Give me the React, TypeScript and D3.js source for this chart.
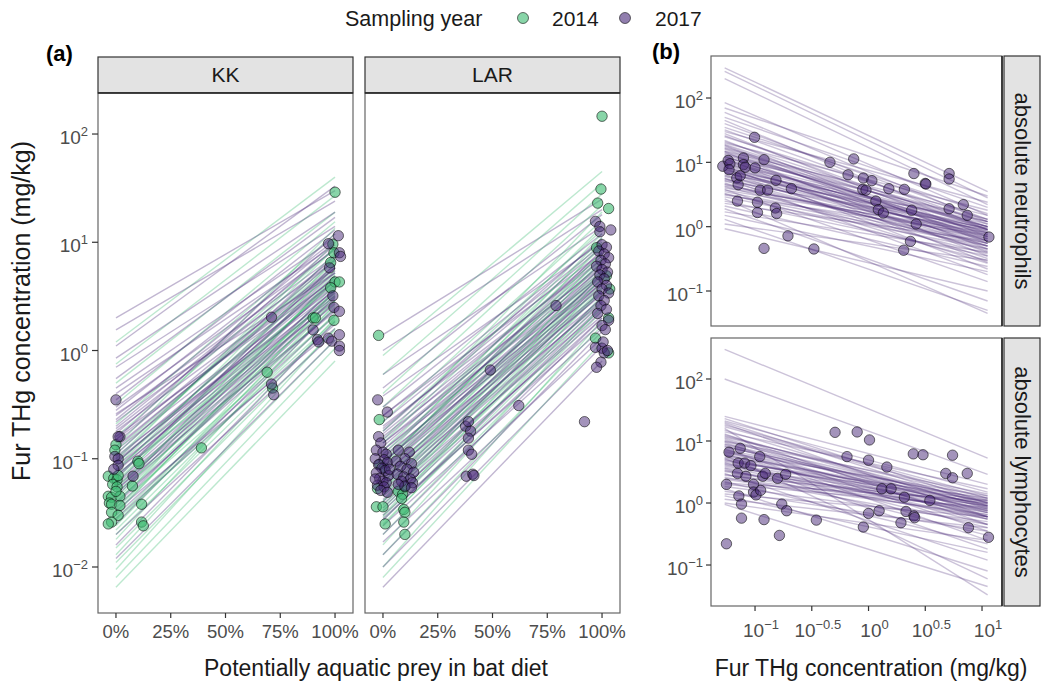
import React from 'react';
import * as d3 from 'd3';

const FONT = '"Liberation Sans", Arial, Helvetica, sans-serif';
const GREEN = '#3FBC73';
const PURPLE = '#482878';

const yearLevels = ['2014', '2017'];
const siteLevels = ['KK', 'LAR'];
const responseLevels = ['absolute neutrophils', 'absolute lymphocytes'];
const dietTicks = [0, 0.25, 0.5, 0.75, 1];
const dietTickLabels = ['0%', '25%', '50%', '75%', '100%'];
const furTickExp = [-2, -1, 0, 1, 2];
const bloodTickExp = [-1, 0, 1, 2];
const furXTickExp = [-1, -0.5, 0, 0.5, 1];
const furXTickLabels = ['\u22121', '\u22120.5', '0', '0.5', '1'];

// fitted lines in panel (a): [value at 0% aquatic prey, value at 100%]
const kkLines2017: [number, number][] = [
  [2.0, 30], [1.55, 24], [1.1, 33], [0.85, 19], [0.7, 14], [0.55, 17], [0.45, 11], [0.4, 9.5], [0.35, 13],
  [0.3, 8.5], [0.28, 10.5], [0.25, 7.5], [0.22, 6.8], [0.2, 8.8], [0.18, 5.8], [0.17, 9.5], [0.15, 5.2],
  [0.14, 6.8], [0.13, 5.8], [0.12, 4.4], [0.11, 7.6], [0.1, 4.8], [0.095, 3.9], [0.09, 5.8], [0.085, 3.4],
  [0.08, 4.9], [0.075, 4.1], [0.07, 2.9], [0.065, 6.3], [0.06, 3.7], [0.055, 2.7], [0.05, 4.4], [0.045, 3.1],
  [0.04, 2.4], [0.035, 3.5], [0.03, 2.1], [0.028, 1.75], [0.025, 2.5], [0.02, 1.45], [0.016, 1.85], [0.012, 1.25],
  [0.19, 7.2], [0.16, 4.6], [0.125, 6.2], [0.105, 3.6], [0.092, 4.4], [0.078, 3.2], [0.068, 5.4], [0.058, 3.0],
  [0.052, 2.3], [0.047, 3.8], [0.038, 2.8], [0.033, 1.6], [0.26, 5.2], [0.23, 10], [0.15, 12],
];
const kkLines2014: [number, number][] = [
  [1.2, 40], [0.75, 27], [0.5, 19], [0.32, 15.5], [0.21, 12], [0.16, 8.8], [0.13, 13.5], [0.11, 7], [0.095, 10],
  [0.085, 6.2], [0.075, 8], [0.065, 5.2], [0.058, 7], [0.052, 4.6], [0.047, 6], [0.042, 3.6], [0.038, 5],
  [0.034, 3.1], [0.031, 4.1], [0.028, 2.6], [0.025, 3.3], [0.022, 2.2], [0.02, 1.85], [0.018, 2.7], [0.015, 1.55],
  [0.013, 2.0], [0.011, 1.25], [0.0095, 1.6], [0.008, 1.05], [0.0065, 0.8],
  [0.09, 5.5], [0.08, 4.2], [0.07, 3.2], [0.062, 4.4], [0.055, 3.4], [0.048, 2.4], [0.044, 4.8], [0.04, 2.9],
  [0.036, 2.1], [0.032, 3.6], [0.027, 1.9], [0.024, 2.9], [0.12, 6.5], [0.1, 8.8],
];
const larLines2017: [number, number][] = [
  [1.4, 25], [1.0, 20], [0.6, 14], [0.45, 18], [0.38, 10], [0.3, 12], [0.25, 8], [0.22, 9.5], [0.2, 7],
  [0.18, 11], [0.16, 6], [0.15, 8], [0.14, 5], [0.13, 7], [0.12, 4.5], [0.11, 6.5], [0.1, 5.5], [0.095, 3.8],
  [0.09, 8.5], [0.085, 4.8], [0.08, 3.5], [0.075, 6], [0.07, 4.2], [0.065, 3], [0.06, 5], [0.055, 2.8],
  [0.05, 3.6], [0.045, 2.4], [0.042, 4.4], [0.038, 2.1], [0.035, 3.1], [0.03, 1.8], [0.027, 2.6], [0.024, 1.6],
  [0.02, 2.0], [0.017, 1.3], [0.013, 1.5], [0.01, 1.1], [0.0065, 0.8],
  [0.19, 9], [0.17, 7.5], [0.14, 6.3], [0.12, 5.8], [0.105, 4.2], [0.092, 5.2], [0.082, 4.5], [0.072, 3.3],
  [0.062, 4], [0.057, 3.4], [0.048, 2.9], [0.04, 2.7], [0.033, 2.3], [0.028, 2.0], [0.25, 10.5],
];
const larLines2014: [number, number][] = [
  [0.9, 45], [0.6, 35], [0.4, 28], [0.3, 22], [0.22, 16], [0.18, 13], [0.15, 19], [0.12, 10], [0.1, 12],
  [0.09, 8], [0.08, 9.5], [0.07, 6.5], [0.06, 7.5], [0.055, 5], [0.05, 6], [0.045, 4], [0.04, 5.2],
  [0.035, 3.5], [0.03, 4.3], [0.027, 2.8], [0.024, 3.2], [0.02, 2.3], [0.016, 2.6], [0.013, 1.7], [0.01, 1.9],
  [0.008, 1.2],
  [0.11, 9], [0.095, 7], [0.085, 11], [0.075, 8], [0.065, 5.5], [0.058, 6.8], [0.052, 4.6], [0.046, 5.4],
  [0.041, 3.8], [0.037, 4.7], [0.033, 3.0], [0.029, 3.7], [0.025, 2.5], [0.14, 14],
];

// observed points in panel (a): [proportion aquatic prey (jittered), fur THg]
const kkPoints2014: [number, number][] = [
  [0.0, 0.135], [-0.005, 0.12], [-0.035, 0.069], [-0.01, 0.066], [0.005, 0.064], [-0.015, 0.058], [0.005, 0.055],
  [-0.035, 0.045], [-0.02, 0.044], [0.018, 0.045], [-0.03, 0.039], [-0.02, 0.038], [0.018, 0.037], [-0.02, 0.032],
  [0.01, 0.03], [-0.02, 0.026], [-0.035, 0.025], [0.0, 0.05], [0.01, 0.07], [0.1, 0.095], [0.105, 0.09],
  [0.075, 0.056], [0.117, 0.038], [0.117, 0.026], [0.125, 0.024], [0.39, 0.126], [0.69, 0.63], [0.715, 0.45],
  [1.0, 29], [0.99, 9.6], [0.995, 8], [0.98, 6.5], [1.0, 4.3], [1.02, 4.3], [0.98, 3.8], [0.9, 2.0], [0.91, 2.0],
  [0.995, 1.9],
];
const kkPoints2017: [number, number][] = [
  [0.0, 0.35], [0.018, 0.16], [0.01, 0.16], [-0.005, 0.105], [0.01, 0.1], [0.01, 0.087], [-0.01, 0.08],
  [0.078, 0.069], [0.71, 0.49], [0.72, 0.39], [0.71, 2.03], [1.015, 11.5], [0.97, 9.7], [1.02, 8], [1.025, 7.4],
  [0.975, 5.8], [0.99, 3.2], [0.995, 2.5], [1.02, 2.3], [0.9, 1.55], [1.02, 1.4], [0.97, 1.3], [0.92, 1.26],
  [0.925, 1.2], [0.985, 1.22], [1.02, 1.1], [1.02, 1.0],
];
const larPoints2014: [number, number][] = [
  [-0.02, 1.38], [-0.017, 0.23], [-0.015, 0.089], [0.005, 0.082], [-0.025, 0.053], [-0.03, 0.036], [0.0, 0.036],
  [0.01, 0.025], [0.07, 0.05], [0.09, 0.047], [0.085, 0.043], [0.1, 0.055], [0.095, 0.034], [0.1, 0.032],
  [0.095, 0.026], [0.1, 0.02], [1.0, 146], [0.995, 31], [0.98, 23], [1.03, 20.5], [0.975, 8.9], [1.02, 4.9],
  [1.035, 3.7], [1.03, 2.0], [0.97, 1.3], [1.03, 0.95],
];
const larPoints2017: [number, number][] = [
  [-0.024, 0.35], [0.02, 0.27], [-0.02, 0.16], [-0.01, 0.14], [-0.03, 0.12], [0.0, 0.115], [0.015, 0.11],
  [-0.035, 0.1], [0.005, 0.098], [0.02, 0.092], [-0.02, 0.088], [-0.005, 0.082], [0.01, 0.078], [-0.03, 0.074],
  [0.025, 0.07], [-0.015, 0.066], [0.0, 0.062], [0.015, 0.06], [-0.025, 0.057], [0.005, 0.055], [-0.01, 0.051],
  [0.02, 0.049], [-0.035, 0.065], [0.03, 0.08], [0.07, 0.12], [0.12, 0.115], [0.1, 0.1], [0.06, 0.095],
  [0.13, 0.09], [0.08, 0.085], [0.11, 0.08], [0.14, 0.075], [0.065, 0.072], [0.095, 0.068], [0.125, 0.065],
  [0.085, 0.062], [0.135, 0.06], [0.1, 0.056], [0.13, 0.054], [0.07, 0.058], [0.377, 0.2], [0.39, 0.22],
  [0.4, 0.18], [0.39, 0.155], [0.39, 0.12], [0.405, 0.11], [0.38, 0.069], [0.41, 0.072], [0.415, 0.07],
  [0.49, 0.66], [0.62, 0.31], [0.92, 0.22], [0.79, 2.6], [0.97, 15.6], [0.99, 14], [1.04, 13], [0.99, 12.5],
  [1.0, 9.5], [1.02, 9], [0.985, 8.3], [1.01, 7.8], [1.03, 7.2], [0.995, 6.8], [1.015, 6.3], [0.975, 6],
  [1.0, 5.6], [1.025, 5.3], [0.99, 5], [1.01, 4.6], [0.98, 4.3], [1.02, 4.0], [1.0, 3.7], [1.03, 3.4],
  [0.985, 3.2], [1.01, 2.9], [0.995, 2.6], [1.02, 2.4], [0.98, 2.2], [1.03, 1.9], [1.0, 1.7], [1.015, 1.56],
  [0.97, 1.07], [1.0, 1.05], [1.01, 0.95], [0.995, 0.78], [0.975, 0.7], [1.005, 1.2], [1.025, 1.0],
];

// panel (b): range of fur THg covered by the fitted lines
const furRange: [number, number] = [0.054, 11.2];
// fitted lines: [value at lowest fur THg, value at highest fur THg]
const neutroLines: [number, number][] = [
  [295, 3.5], [260, 2.8], [200, 2.2], [85, 1.5], [70, 3.0], [60, 1.2], [50, 2.0], [45, 0.9], [35, 1.6], [32, 1.1],
  [30, 2.4], [28, 0.7], [25, 1.3], [22, 0.55], [20, 1.8], [19, 0.9], [18, 0.45], [17, 1.2], [16, 0.65], [15, 1.5],
  [14.5, 0.35], [14, 0.8], [13, 1.0], [12.5, 0.5], [12, 1.3], [11.5, 0.28], [11, 0.7], [10.5, 0.9], [10, 0.4],
  [9.5, 1.1], [9, 0.6], [8.7, 0.22], [8.3, 0.85], [8, 0.5], [7.6, 1.2], [7.2, 0.32], [7, 0.7], [6.7, 0.95],
  [6.4, 0.42], [6, 0.6], [5.7, 0.18], [5.4, 0.8], [5.1, 0.5], [4.8, 0.27], [4.5, 0.65], [4.2, 0.38], [4, 0.9],
  [3.8, 0.14], [3.5, 0.55], [3.3, 0.3], [3.1, 0.75], [2.9, 0.45], [2.7, 0.045], [2.5, 0.35], [2.3, 0.6],
  [2.1, 0.24], [1.9, 0.07], [1.7, 0.4], [1.5, 0.2], [1.3, 0.05], [1.1, 0.3], [0.93, 0.1],
  [16.5, 1.0], [14.8, 0.75], [13.5, 1.2], [12.2, 0.6], [11.2, 1.0], [10.2, 0.8], [9.2, 0.9], [8.5, 0.65],
  [7.8, 0.55], [7.4, 0.85], [6.9, 1.0], [6.2, 0.75], [5.6, 0.45], [5.2, 0.95], [4.6, 0.55], [4.3, 0.7],
  [3.7, 0.8], [3.2, 0.5], [18.5, 0.6], [21, 1.0], [26, 0.9], [40, 1.3],
];
const lymphoLines: [number, number][] = [
  [300, 5.3], [100, 2.9], [25, 2.0], [23, 1.0], [21, 1.5], [19, 0.6], [17, 1.2], [15, 0.8], [14, 1.7], [13, 0.45],
  [12, 1.0], [11, 0.7], [10, 1.4], [9.5, 0.35], [9, 0.9], [8.5, 0.55], [8, 1.1], [7.5, 0.25], [7, 0.75],
  [6.6, 1.3], [6.2, 0.45], [5.8, 0.95], [5.5, 0.6], [5.2, 0.18], [5, 0.8], [4.7, 1.2], [4.4, 0.4], [4.1, 0.65],
  [3.9, 0.9], [3.6, 0.3], [3.4, 0.55], [3.2, 0.75], [3, 0.12], [2.8, 1.0], [2.6, 0.45], [2.4, 0.65],
  [2.2, 0.22], [2.0, 0.85], [1.85, 0.5], [1.7, 0.08], [1.55, 0.35], [1.4, 0.6], [1.3, 0.16], [1.15, 0.4],
  [0.95, 0.045], [1.0, 0.25], [16, 0.033], [6, 0.06],
  [12.5, 0.85], [11.5, 1.2], [10.5, 0.6], [9.8, 1.0], [8.8, 0.75], [8.2, 0.9], [7.2, 1.15], [6.8, 0.6],
  [6.4, 0.85], [5.9, 1.05], [5.3, 0.7], [4.9, 0.95], [4.5, 0.55], [4.2, 1.1], [3.7, 0.7], [3.3, 0.9],
  [2.9, 0.6], [2.5, 0.8], [2.1, 1.1], [18, 1.3], [20, 0.9],
];
// observed points: [fur THg, cell count]
const neutroPoints: [number, number][] = [
  [0.052, 8.7], [0.058, 10.7], [0.06, 9.5], [0.059, 7.7], [0.069, 5.7], [0.071, 4.5], [0.07, 2.5], [0.079, 11.7],
  [0.079, 9.2], [0.082, 8.4], [0.074, 6.2], [0.099, 24.5], [0.1, 8.2], [0.12, 11], [0.111, 3.7], [0.129, 3.7],
  [0.105, 2.4], [0.105, 1.66], [0.153, 5.25], [0.151, 1.95], [0.155, 1.6], [0.12, 0.46], [0.195, 0.72],
  [0.209, 3.9], [0.33, 0.45], [0.457, 10], [0.66, 6.4], [0.74, 11.3], [0.9, 5.7], [0.89, 3.8], [0.95, 3.7],
  [1.07, 5.2], [1.16, 2.5], [1.22, 1.84], [1.35, 1.63], [1.51, 3.9], [2.07, 3.8], [2.51, 6.7], [2.4, 1.8],
  [2.34, 0.59], [2.04, 0.43], [2.63, 1.1], [3.16, 4.7], [3.2, 4.6], [5.13, 6.7], [5.13, 5.5], [5.13, 1.9],
  [6.84, 2.2], [7.41, 1.5], [11.5, 0.69],
];
const lymphoPoints: [number, number][] = [
  [0.056, 2.0], [0.056, 0.22], [0.059, 6.6], [0.074, 7.6], [0.071, 4.4], [0.07, 3.0], [0.072, 1.3], [0.076, 0.96],
  [0.076, 0.57], [0.081, 4.4], [0.083, 2.7], [0.092, 4.0], [0.097, 2.0], [0.097, 1.5], [0.102, 1.35], [0.11, 5.6],
  [0.112, 1.6], [0.117, 2.7], [0.123, 3.0], [0.12, 0.54], [0.158, 2.5], [0.172, 0.96], [0.164, 0.3], [0.186, 2.9],
  [0.19, 0.75], [0.347, 0.53], [0.507, 13.8], [0.646, 5.6], [0.794, 14], [1.02, 10.4], [1.0, 4.9], [0.9, 0.41],
  [1.0, 0.68], [1.24, 0.75], [1.31, 1.7], [1.45, 3.8], [1.58, 1.7], [2.07, 1.24], [1.93, 0.48], [2.14, 0.73],
  [2.48, 6.2], [2.51, 0.62], [2.55, 0.58], [3.02, 6.0], [3.47, 1.1], [4.79, 3.0], [5.5, 2.55], [5.5, 5.9],
  [7.41, 3.0], [7.59, 0.4], [11.4, 0.28],
];

// ---------- scales ----------
const yA = d3.scaleLog().domain([10 ** -2.425, 10 ** 2.379]).range([613, 93]);
const xKK = d3.scaleLinear().domain([-0.082, 1.082]).range([98, 353]);
const xLAR = d3.scaleLinear().domain([-0.082, 1.082]).range([365, 620]);
const xB = d3.scaleLog().domain([10 ** -1.388, 10 ** 1.176]).range([711, 1002]);
const yBTop = d3.scaleLog().domain([10 ** -1.544, 10 ** 2.653]).range([326, 56]);
const yBBot = d3.scaleLog().domain([10 ** -1.661, 10 ** 2.661]).range([606, 338]);

const lineGen = d3.line<[number, number]>().x((d) => d[0]).y((d) => d[1]);

function interleave<T>(a: T[], b: T[]): { item: T; g: number }[] {
  const out: { item: T; g: number }[] = [];
  const n = Math.max(a.length, b.length);
  for (let i = 0; i < n; i++) {
    if (i < a.length) out.push({ item: a[i], g: 0 });
    if (i < b.length) out.push({ item: b[i], g: 1 });
  }
  return out;
}

const colorOf = (g: number) => (g === 0 ? GREEN : PURPLE);

function Pow10({ x, y, exp, anchor }: { x: number; y: number; exp: string; anchor: string }) {
  return (
    <text x={x} y={y} textAnchor={anchor} fontFamily={FONT} fontSize={19} fill="#4D4D4D">
      10
      <tspan dy={-8} fontSize={13}>{exp}</tspan>
    </text>
  );
}

function DietPanel({ site, x, lines14, lines17, pts14, pts17 }: any) {
  const [x0, x1] = x.range();
  const [yb, yt] = yA.range();
  const lines = interleave<[number, number]>(lines14, lines17);
  return (
    <g>
      <rect x={x0} y={57} width={x1 - x0} height={yt - 57} fill="#E3E3E3" stroke="#333" strokeWidth={1.2} />
      <text x={(x0 + x1) / 2} y={82} textAnchor="middle" fontFamily={FONT} fontSize={21} fill="#1A1A1A">{site}</text>
      <rect x={x0} y={yt} width={x1 - x0} height={yb - yt} fill="white" />
      {lines.map((l, i) => (
        <path key={'l' + i}
          d={lineGen([[x(0), yA(l.item[0])], [x(1), yA(l.item[1])]]) || ''}
          stroke={colorOf(l.g)} strokeOpacity={0.34} strokeWidth={1.4} fill="none" />
      ))}
      {pts14.map((p: [number, number], i: number) => (
        <circle key={'a' + i} cx={x(p[0])} cy={yA(p[1])} r={5.2} fill={GREEN} fillOpacity={0.62}
          stroke="#000" strokeOpacity={0.55} strokeWidth={1} />
      ))}
      {pts17.map((p: [number, number], i: number) => (
        <circle key={'b' + i} cx={x(p[0])} cy={yA(p[1])} r={5.2} fill={PURPLE} fillOpacity={0.5}
          stroke="#000" strokeOpacity={0.55} strokeWidth={1} />
      ))}
      <rect x={x0} y={yt} width={x1 - x0} height={yb - yt} fill="none" stroke="#666" strokeWidth={1.2} />
      <line x1={x0} x2={x1} y1={yt} y2={yt} stroke="#222" strokeWidth={1.6} />
      {dietTicks.map((t, i) => (
        <g key={'t' + i}>
          <line x1={x(t)} x2={x(t)} y1={yb} y2={yb + 5} stroke="#333" strokeWidth={1.2} />
          <text x={x(t)} y={638} textAnchor="middle" fontFamily={FONT} fontSize={18.5} fill="#4D4D4D">{dietTickLabels[i]}</text>
        </g>
      ))}
    </g>
  );
}

function BloodPanel({ label, y, lines, pts, showX }: any) {
  const [x0, x1] = xB.range();
  const [yb, yt] = y.range();
  return (
    <g>
      <rect x={x0} y={yt} width={x1 - x0} height={yb - yt} fill="white" />
      {lines.map((l: [number, number], i: number) => (
        <path key={'l' + i}
          d={lineGen([[xB(furRange[0]), y(l[0])], [xB(furRange[1]), y(l[1])]]) || ''}
          stroke={PURPLE} strokeOpacity={0.28} strokeWidth={1.4} fill="none" />
      ))}
      {pts.map((p: [number, number], i: number) => (
        <circle key={'p' + i} cx={xB(p[0])} cy={y(p[1])} r={5.2} fill={PURPLE} fillOpacity={0.5}
          stroke="#000" strokeOpacity={0.55} strokeWidth={1} />
      ))}
      <rect x={x0} y={yt} width={x1 - x0} height={yb - yt} fill="none" stroke="#666" strokeWidth={1.2} />
      <line x1={x1} x2={x1} y1={yt} y2={yb} stroke="#222" strokeWidth={1.6} />
      <rect x={x1 + 2} y={yt} width={36} height={yb - yt} fill="#E3E3E3" stroke="#333" strokeWidth={1.2} />
      <text transform={`translate(${x1 + 20},${(yt + yb) / 2}) rotate(90)`} textAnchor="middle"
        dominantBaseline="central" fontFamily={FONT} fontSize={22} fill="#1A1A1A">{label}</text>
      {bloodTickExp.map((e) => (
        <g key={'y' + e}>
          <line x1={x0 - 5} x2={x0} y1={y(10 ** e)} y2={y(10 ** e)} stroke="#333" strokeWidth={1.2} />
          <Pow10 x={703} y={y(10 ** e) + 10} exp={e < 0 ? '\u2212' + Math.abs(e) : String(e)} anchor="end" />
        </g>
      ))}
      {showX && furXTickExp.map((e, i) => (
        <g key={'x' + i}>
          <line x1={xB(10 ** e)} x2={xB(10 ** e)} y1={yb} y2={yb + 5} stroke="#333" strokeWidth={1.2} />
          <Pow10 x={xB(10 ** e) + 6} y={637} exp={furXTickLabels[i]} anchor="middle" />
        </g>
      ))}
    </g>
  );
}

export default function App() {
  return (
    <svg width={1050} height={689} style={{ position: 'absolute', left: 0, top: 0, background: 'white' }}
      fontFamily={FONT}>
      <rect width={1050} height={689} fill="white" />
      {/* legend */}
      <text x={345} y={26} fontSize={21.5} fill="#1A1A1A">Sampling year</text>
      <circle cx={523} cy={18} r={5.5} fill={GREEN} fillOpacity={0.62} stroke="#000" strokeOpacity={0.55} />
      <text x={552} y={26} fontSize={21} fill="#1A1A1A">{yearLevels[0]}</text>
      <circle cx={625} cy={18} r={5.5} fill={PURPLE} fillOpacity={0.6} stroke="#000" strokeOpacity={0.55} />
      <text x={655} y={26} fontSize={21} fill="#1A1A1A">{yearLevels[1]}</text>

      {/* panel labels */}
      <text x={46} y={61} fontSize={22} fontWeight="bold" fill="#000">(a)</text>
      <text x={652} y={59} fontSize={22} fontWeight="bold" fill="#000">(b)</text>

      <DietPanel site={siteLevels[0]} x={xKK} lines14={kkLines2014} lines17={kkLines2017} pts14={kkPoints2014} pts17={kkPoints2017} />
      <DietPanel site={siteLevels[1]} x={xLAR} lines14={larLines2014} lines17={larLines2017} pts14={larPoints2014} pts17={larPoints2017} />

      {furTickExp.map((e) => (
        <g key={'ya' + e}>
          <line x1={92} x2={98} y1={yA(10 ** e)} y2={yA(10 ** e)} stroke="#333" strokeWidth={1.2} />
          <Pow10 x={88} y={yA(10 ** e) + 10} exp={e < 0 ? '\u2212' + Math.abs(e) : String(e)} anchor="end" />
        </g>
      ))}
      <text transform="translate(30,311) rotate(-90)" textAnchor="middle" fontSize={25} fill="#1A1A1A">
        Fur THg concentration (mg/kg)
      </text>
      <text x={376} y={676} textAnchor="middle" fontSize={23} fill="#1A1A1A">Potentially aquatic prey in bat diet</text>

      <BloodPanel label={responseLevels[0]} y={yBTop} lines={neutroLines} pts={neutroPoints} showX={false} />
      <BloodPanel label={responseLevels[1]} y={yBBot} lines={lymphoLines} pts={lymphoPoints} showX={true} />
      <text x={871} y={676} textAnchor="middle" fontSize={23} fill="#1A1A1A">Fur THg concentration (mg/kg)</text>
    </svg>
  );
}
